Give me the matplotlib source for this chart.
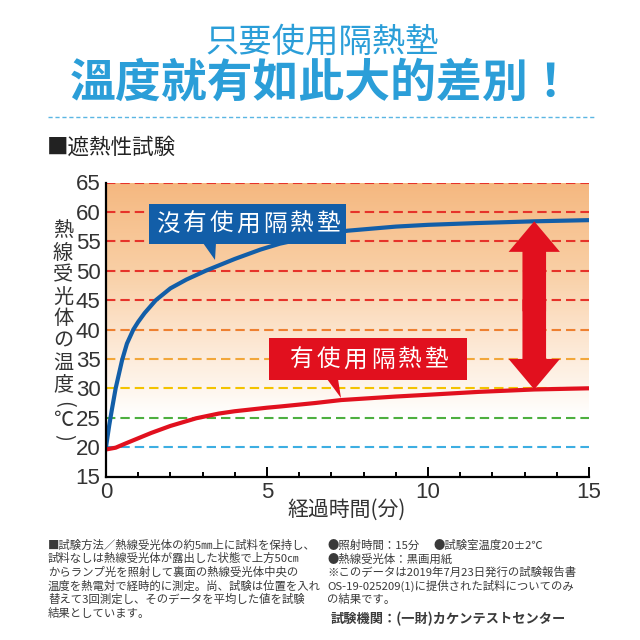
import numpy as np
import matplotlib
matplotlib.use('Agg')
import matplotlib.pyplot as plt
from matplotlib.colors import LinearSegmentedColormap
from matplotlib.patches import Rectangle, Polygon
from matplotlib.lines import Line2D

plt.rcParams['font.family'] = ['Noto Sans CJK JP', 'DejaVu Sans']

# 沒有使用隔熱墊 (blue)
time_blue = [0, 0.04, 0.1, 0.18, 0.3, 0.5, 0.65, 0.85, 1.0, 1.2, 1.55, 2.0, 2.5, 3.1, 4.0,
             4.8, 5.4, 6.5, 7.5, 9.0, 10.0, 11.5, 13.3, 15]
temp_blue = [20.0, 21.5, 23.7, 26.3, 30.0, 34.8, 37.6, 40.0, 41.3, 42.8, 45.0, 47.0, 48.5, 50.0, 52.0,
             53.6, 54.6, 55.9, 56.8, 57.5, 57.8, 58.1, 58.4, 58.6]
# 有使用隔熱墊 (red)
time_red = [0, 0.3, 0.6, 1.0, 1.4, 2.0, 2.8, 3.5, 4.0, 5.0, 5.4, 6.5, 7.3,
            9.0, 10.0, 11.6, 13.3, 15]
temp_red = [19.6, 19.9, 20.6, 21.5, 22.4, 23.6, 24.9, 25.7, 26.1, 26.7, 26.9, 27.5, 28.0,
            28.6, 28.9, 29.4, 29.8, 30.0]

yticks = [15, 20, 25, 30, 35, 40, 45, 50, 55, 60, 65]
xticks = [0, 5, 10, 15]
grid_levels = [20, 25, 30, 35, 40, 45, 50, 55, 60, 65]
grid_colors = ['#3DAEE2', '#4DAF3F', '#F3C300', '#F2A73A', '#EE8030',
               '#E6332A', '#E6332A', '#E6332A', '#E6332A', '#E6332A']
arrow_x = 13.3

blue = '#125EA8'
red = '#E1101E'
head_blue = '#2B9ED8'

W = 640.0
def fx(p):
    return p / W
def fy(p):
    return 1 - p / W

fig = plt.figure(figsize=(6.4, 6.4), dpi=100)
ax = fig.add_axes([fx(106), fy(476.5), fx(589) - fx(106), fy(182.5) - fy(476.5)])

# background gradient
cmap = LinearSegmentedColormap.from_list('bg', [
    (0.0, '#FFFFFF'), (0.2, '#FFFFFF'), (0.3, '#FEF5EC'), (0.5, '#FCE3CB'),
    (0.7, '#F9CFA5'), (1.0, '#F5B880')])
grad = np.linspace(15, 65, 200).reshape(-1, 1)
ax.imshow(grad, extent=[0, 15, 15, 65], origin='lower', aspect='auto',
          cmap=cmap, vmin=15, vmax=65, zorder=0)

for lev, c in zip(grid_levels, grid_colors):
    ax.axhline(lev, color=c, lw=1.5, ls=(0, (4.5, 2.4)), zorder=1)

ax.plot(time_blue, temp_blue, color=blue, lw=3, zorder=3, solid_capstyle='butt', solid_joinstyle='round')
ax.plot(time_red, temp_red, color=red, lw=3, zorder=3, solid_capstyle='butt', solid_joinstyle='round')

# double arrow between the curves
top = np.interp(arrow_x, time_blue, temp_blue)
bot = np.interp(arrow_x, time_red, temp_red)
mid = (top + bot) / 2
for end, start in ((top, mid - 1), (bot, mid + 1)):
    ax.annotate('', xy=(arrow_x, end), xytext=(arrow_x, start),
                arrowprops=dict(arrowstyle='simple,head_length=22,head_width=37,tail_width=17',
                                mutation_scale=1, color=red, lw=0, shrinkA=0, shrinkB=0),
                zorder=4)

ax.set_xlim(0, 15)
ax.set_ylim(15, 65)
ax.set_xticks(xticks)
ax.set_xticks(range(16), minor=True)
ax.set_yticks(yticks)
for s in ['top', 'right']:
    ax.spines[s].set_visible(False)
for s in ['left', 'bottom']:
    ax.spines[s].set_linewidth(1.6)
    ax.spines[s].set_zorder(5)
ax.tick_params(axis='y', length=0, pad=4, labelsize=16, labelcolor='#333333')
ax.tick_params(axis='x', which='major', direction='in', length=7, width=1.4,
               pad=4, labelsize=16, labelcolor='#333333')
ax.tick_params(axis='x', which='minor', direction='in', length=3.5, width=1.4)
for lab in ax.get_xticklabels() + ax.get_yticklabels():
    lab.set_family(['Liberation Sans Narrow', 'Liberation Sans'])

# y label, stacked vertically
ylab = '熱線受光体の温度'
for i, ch in enumerate(ylab):
    fig.text(fx(63), fy(231 + i * 22), ch, fontsize=14.5, ha='center', va='center', color='#333333')
fig.text(fx(63), fy(404), '(', fontsize=14.5, ha='center', va='center', rotation=-90, color='#333333')
fig.text(fx(63), fy(420), '℃', fontsize=14.5, ha='center', va='center', color='#333333')
fig.text(fx(63), fy(437), ')', fontsize=14.5, ha='center', va='center', rotation=-90, color='#333333')

fig.text(fx(347), fy(510), '経過時間(分)', fontsize=15, ha='center', va='center', color='#333333')

# header
fig.text(fx(322), fy(42), '只要使用隔熱墊', fontsize=24, ha='center', va='center',
         color=head_blue, family=['Noto Sans CJK TC', 'DejaVu Sans'])
fig.text(fx(322), fy(84), '溫度就有如此大的差別！', fontsize=33, fontweight='heavy',
         ha='center', va='center', color=head_blue, family=['Noto Sans CJK TC', 'DejaVu Sans'])
fig.add_artist(Line2D([fx(48), fx(595)], [fy(117), fy(117)], transform=fig.transFigure,
                      color='#5BB6E3', lw=1.0, ls=(0, (3, 2))))

fig.text(fx(47), fy(148), '■遮熱性試験', fontsize=15.5, ha='left', va='center', color='#222222')

# callout boxes
def callout(x0, y0, x1, y1, tri, text, color, pitch, tx0, ty):
    fig.add_artist(Rectangle((fx(x0), fy(y1)), fx(x1) - fx(x0), fy(y0) - fy(y1),
                             transform=fig.transFigure, facecolor=color, edgecolor='none', zorder=6))
    fig.add_artist(Polygon([(fx(a), fy(b)) for a, b in tri], closed=True,
                           transform=fig.transFigure, facecolor=color, edgecolor='none', zorder=6))
    for i, ch in enumerate(text):
        fig.text(fx(tx0 + (i + 0.5) * pitch), fy(ty), ch, fontsize=17, color='white',
                 ha='center', va='center', zorder=7, family=['Noto Sans CJK TC', 'DejaVu Sans'])

callout(149, 204, 346, 244, [(203, 243), (216, 243), (215, 260)],
        '沒有使用隔熱墊', blue, 26.7, 155, 224)
callout(269, 338, 467, 380, [(327, 379), (338, 379), (341, 398)],
        '有使用隔熱墊', red, 27, 288, 360)

# notes
left_notes = ['■試験方法／熱線受光体の約5㎜上に試料を保持し、',
              '試料なしは熱線受光体が露出した状態で上方50㎝',
              'からランプ光を照射して裏面の熱線受光体中央の',
              '温度を熱電対で経時的に測定。尚、試験は位置を入れ',
              '替えて3回測定し、そのデータを平均した値を試験',
              '結果としています。']
for i, line in enumerate(left_notes):
    fig.text(fx(48), fy(545 + i * 13.6), line, fontsize=8.2, ha='left', va='center', color='#3A3A3A')

right_notes = ['●照射時間：15分',
               '●熱線受光体：黒画用紙',
               '※このデータは2019年7月23日発行の試験報告書',
               'OS-19-025209(1)に提供された試料についてのみ',
               'の結果です。']
for i, line in enumerate(right_notes):
    fig.text(fx(327), fy(545 + i * 13.6), line, fontsize=8.2, ha='left', va='center', color='#3A3A3A')
fig.text(fx(433), fy(545), '●試験室温度20±2℃', fontsize=8.2, ha='left', va='center', color='#3A3A3A')
fig.text(fx(331), fy(619), '試験機関：(一財)カケンテストセンター', fontsize=9.5, fontweight='bold',
         ha='left', va='center', color='#3A3A3A')

fig.savefig('out.png', dpi=100)
